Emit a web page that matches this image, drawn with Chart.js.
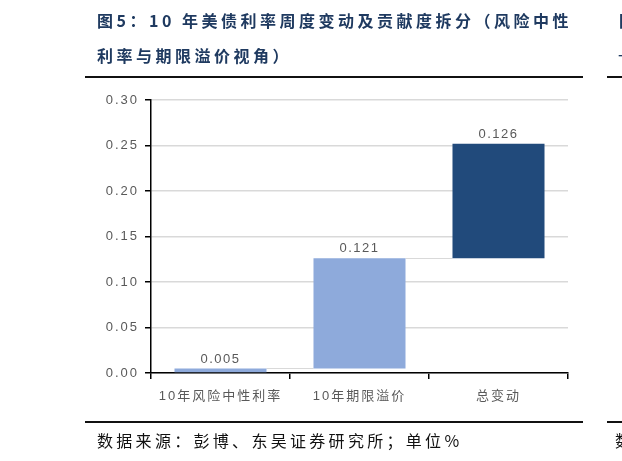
<!DOCTYPE html>
<html>
<head>
<meta charset="utf-8">
<script src="https://cdn.jsdelivr.net/npm/chart.js@4.4.1/dist/chart.umd.min.js"></script>
<style>
    html, body { margin: 0; padding: 0; background: #fff; }
    #page { position: relative; width: 622px; height: 461px; overflow: hidden; }
    #chart { position: absolute; left: 0; top: 0; }
    .title {
        position: absolute; left: 97px; color: #1f3a60;
        font-family: "Noto Sans CJK SC", sans-serif; font-weight: bold;
        font-size: 16px; letter-spacing: 3.5px; white-space: nowrap; line-height: 20px;
    }
    .rule { position: absolute; height: 2px; background: #111; }
    .source {
        position: absolute; left: 97px; top: 430px; color: #111;
        font-family: "Noto Sans CJK SC", sans-serif; font-size: 16px;
        letter-spacing: 3.3px; white-space: nowrap; line-height: 20px;
    }
</style>
</head>
<body>
<div id="page">
    <canvas id="chart" width="622" height="461"></canvas>
    <div class="title" style="top:10px">图5：10 年美债利率周度变动及贡献度拆分（风险中性</div>
    <div class="title" style="top:45px">利率与期限溢价视角）</div>
    <div class="title" style="top:10px;left:619px">图</div>
    <div class="title" style="top:45px;left:618px;font-weight:normal">一</div>
    <div class="rule" style="left:85px;top:76px;width:498px"></div>
    <div class="rule" style="left:607px;top:76px;width:15px"></div>
    <div class="rule" style="left:85px;top:421px;width:498px"></div>
    <div class="rule" style="left:607px;top:421px;width:15px"></div>
    <div class="source">数据来源：彭博、东吴证券研究所；单位%</div>
    <div class="source" style="left:615px">数</div>
</div>
<script>
// waterfall: invisible base + visible change
const categories = ['10年风险中性利率', '10年期限溢价', '总变动'];
const baseValues = [0, 0.005, 0.126];
const changeValues = [0.005, 0.121, 0.126];
const barColors = ['#8eaadb', '#8eaadb', '#214a7b'];
const yTicks = [0, 0.05, 0.10, 0.15, 0.20, 0.25, 0.30];

const labelFont = '"Liberation Sans", "Noto Sans CJK SC", sans-serif';

// wider letter spacing for all canvas text, like the original
const spacingPlugin = {
    id: 'spacing',
    beforeDraw(chart) {
        chart.ctx.letterSpacing = '2px';
    }
};

// light grey steps between the bars
const connectorPlugin = {
    id: 'connectors',
    beforeDatasetsDraw(chart) {
        const ctx = chart.ctx;
        const bars = chart.getDatasetMeta(1).data;
        const y = chart.scales.y;
        ctx.save();
        ctx.strokeStyle = '#d9d9d9';
        ctx.lineWidth = 1;
        for (let i = 0; i < bars.length - 1; i++) {
            const level = baseValues[i] + changeValues[i];
            const py = Math.round(y.getPixelForValue(level)) + 0.5;
            ctx.beginPath();
            ctx.moveTo(bars[i].x + bars[i].width / 2, py);
            ctx.lineTo(bars[i + 1].x - bars[i + 1].width / 2, py);
            ctx.stroke();
        }
        ctx.restore();
    }
};

// value labels above each bar
const valueLabelPlugin = {
    id: 'valueLabels',
    afterDatasetsDraw(chart) {
        const ctx = chart.ctx;
        const bars = chart.getDatasetMeta(1).data;
        ctx.save();
        ctx.fillStyle = '#595959';
        ctx.font = '13px ' + labelFont;
        ctx.letterSpacing = '1.5px';
        ctx.textAlign = 'center';
        ctx.textBaseline = 'bottom';
        bars.forEach((bar, i) => {
            ctx.fillText(changeValues[i].toFixed(3), bar.x, bar.y - 3);
        });
        ctx.restore();
    }
};

new Chart(document.getElementById('chart'), {
    type: 'bar',
    data: {
        labels: categories,
        datasets: [{
            data: baseValues,
            backgroundColor: 'rgba(0,0,0,0)',
            categoryPercentage: 1,
            barPercentage: 0.662
        }, {
            data: changeValues,
            backgroundColor: barColors,
            categoryPercentage: 1,
            barPercentage: 0.662
        }]
    },
    options: {
        responsive: false,
        animation: false,
        devicePixelRatio: 1,
        layout: {
            padding: { top: 100, right: 54, bottom: 0, left: 0 }
        },
        plugins: {
            legend: { display: false },
            tooltip: { enabled: false }
        },
        scales: {
            x: {
                stacked: true,
                afterFit: scale => { scale.height = 88; },
                border: { color: '#000', width: 1.5 },
                grid: {
                    drawOnChartArea: false,
                    drawTicks: true,
                    tickColor: '#000',
                    tickLength: 6,
                    lineWidth: 1.5
                },
                ticks: {
                    color: '#595959',
                    padding: 10,
                    font: { size: 13, family: labelFont }
                }
            },
            y: {
                stacked: true,
                min: 0,
                max: 0.30,
                afterFit: scale => { scale.width = 151; },
                afterBuildTicks: scale => {
                    scale.ticks = yTicks.map(v => ({ value: v }));
                },
                border: { color: '#000', width: 1.5 },
                grid: {
                    color: '#d9d9d9',
                    lineWidth: 1.5,
                    tickColor: '#000',
                    tickLength: 6
                },
                ticks: {
                    color: '#595959',
                    padding: 6,
                    font: { size: 13, family: labelFont },
                    callback: v => v.toFixed(2)
                }
            }
        }
    },
    plugins: [spacingPlugin, connectorPlugin, valueLabelPlugin]
});
</script>
</body>
</html>
